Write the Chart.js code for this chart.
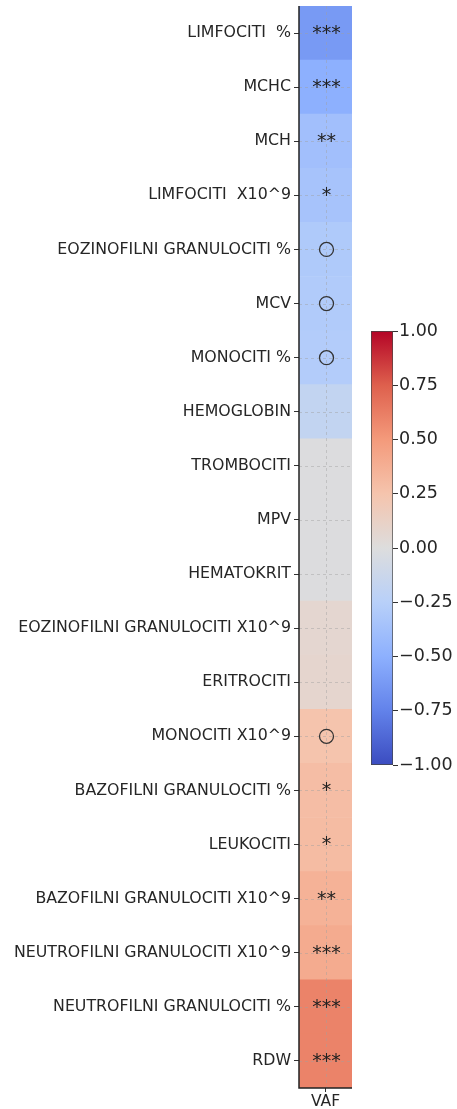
<!DOCTYPE html>
<html>
<head>
<meta charset="utf-8">
<script src="https://cdn.jsdelivr.net/npm/chart.js@4"></script>
<style>
  body { margin: 0; background: #fff; width: 457px; height: 1109px; position: relative; overflow: hidden; }
  #main { position: absolute; left: 0; top: 0; }
  #cbar { position: absolute; left: 360px; top: 320px; }
</style>
</head>
<body>
<canvas id="main" width="360" height="1109"></canvas>
<canvas id="cbar" width="97" height="460"></canvas>
<script>
const markers = ["LIMFOCITI  %", "MCHC", "MCH", "LIMFOCITI  X10^9", "EOZINOFILNI GRANULOCITI %", "MCV", "MONOCITI %",
    "HEMOGLOBIN", "TROMBOCITI", "MPV", "HEMATOKRIT", "EOZINOFILNI GRANULOCITI X10^9", "ERITROCITI",
    "MONOCITI X10^9", "BAZOFILNI GRANULOCITI %", "LEUKOCITI", "BAZOFILNI GRANULOCITI X10^9",
    "NEUTROFILNI GRANULOCITI X10^9", "NEUTROFILNI GRANULOCITI %", "RDW"];
const vafCorr = [-0.62, -0.5, -0.38, -0.35, -0.3, -0.29, -0.28, -0.18, -0.01, -0.01, -0.01, 0.07, 0.08,
    0.25, 0.29, 0.3, 0.36, 0.4, 0.6, 0.6];
const signif = ["***", "***", "**", "*", "o", "o", "o", "", "", "", "", "", "", "o", "*", "*", "**", "***", "***", "***"];
const colName = ["VAF"];
const cbarTicks = [-1, -0.75, -0.5, -0.25, 0, 0.25, 0.5, 0.75, 1];

// matplotlib coolwarm, sampled
const cw = [[59,76,192],[98,130,234],[141,176,254],[184,208,249],[221,221,221],[245,196,173],[244,154,123],[222,96,77],[180,4,38]];
function coolwarm(v) {
    let t = (v + 1) / 2;
    t = Math.max(0, Math.min(1, t)) * (cw.length - 1);
    const i = Math.min(Math.floor(t), cw.length - 2), f = t - i;
    const c = cw[i].map((a, k) => Math.round(a + (cw[i + 1][k] - a) * f));
    return `rgb(${c[0]},${c[1]},${c[2]})`;
}

const FONT = "DejaVu Sans";
const TXT = "#262626";

const overlay = {
    id: "overlay",
    afterDatasetsDraw(chart) {
        const ctx = chart.ctx, xs = chart.scales.x, ys = chart.scales.y, a = chart.chartArea;
        ctx.save();
        ctx.strokeStyle = "rgba(160,160,160,0.45)";
        ctx.lineWidth = 1;
        ctx.setLineDash([3, 3]);
        markers.forEach((m, i) => {
            const y = Math.round(ys.getPixelForValue(i)) + 0.5;
            ctx.beginPath(); ctx.moveTo(a.left, y); ctx.lineTo(a.right, y); ctx.stroke();
        });
        const cx = Math.round(xs.getPixelForValue(0.5)) + 0.5;
        ctx.beginPath(); ctx.moveTo(cx, a.top); ctx.lineTo(cx, a.bottom); ctx.stroke();
        ctx.setLineDash([]);
        // significance marks
        ctx.fillStyle = "#222";
        ctx.strokeStyle = "#333";
        ctx.textAlign = "center";
        ctx.textBaseline = "middle";
        ctx.font = "19px " + FONT;
        signif.forEach((s, i) => {
            const y = ys.getPixelForValue(i);
            if (s === "o") {
                ctx.lineWidth = 1.3;
                ctx.beginPath(); ctx.arc(cx, y, 7, 0, Math.PI * 2); ctx.stroke();
            } else if (s) {
                ctx.fillText(s, cx, y + 1);
            }
        });
        // spines
        ctx.strokeStyle = "#222";
        ctx.lineWidth = 1.5;
        ctx.beginPath(); ctx.moveTo(a.left, a.top); ctx.lineTo(a.left, a.bottom); ctx.lineTo(a.right, a.bottom); ctx.stroke();
        ctx.restore();
    }
};

new Chart(document.getElementById("main"), {
    type: "bar",
    data: {
        labels: markers,
        datasets: [{
            data: vafCorr.map(() => 1),
            backgroundColor: vafCorr.map(coolwarm),
            borderWidth: 0,
            barPercentage: 1,
            categoryPercentage: 1
        }]
    },
    options: {
        indexAxis: "y",
        responsive: false,
        animation: false,
        devicePixelRatio: 1,
        layout: { padding: { left: 0, right: 8, top: 6, bottom: 0 } },
        plugins: { legend: { display: false }, tooltip: { enabled: false } },
        scales: {
            x: {
                min: 0, max: 1,
                afterBuildTicks: (s) => { s.ticks = [{ value: 0.5 }]; },
                afterFit: (s) => { s.height = 21; s.paddingLeft = 0; s.paddingRight = 0; },
                ticks: { callback: () => colName[0], color: TXT, font: { family: FONT, size: 15.5 }, padding: 1, maxRotation: 0 },
                grid: { drawOnChartArea: false, tickLength: 4, color: "#333" },
                border: { display: false }
            },
            y: {
                afterFit: (s) => { s.width = 299; s.paddingTop = 0; s.paddingBottom = 0; },
                ticks: { color: TXT, font: { family: FONT, size: 15.8 }, padding: 3, autoSkip: false },
                grid: { drawOnChartArea: false, offset: false, tickLength: 5, color: "#333" },
                border: { display: false }
            }
        }
    },
    plugins: [overlay]
});

new Chart(document.getElementById("cbar"), {
    type: "bar",
    data: {
        labels: [""],
        datasets: [{
            data: [[-1, 1]],
            backgroundColor: (c) => {
                const a = c.chart.chartArea;
                if (!a) return "#ddd";
                const g = c.chart.ctx.createLinearGradient(0, a.bottom, 0, a.top);
                cw.forEach((col, i) => g.addColorStop(i / (cw.length - 1), `rgb(${col[0]},${col[1]},${col[2]})`));
                return g;
            },
            borderColor: "#444",
            borderWidth: 1,
            borderSkipped: false,
            barPercentage: 1,
            categoryPercentage: 1
        }]
    },
    options: {
        responsive: false,
        animation: false,
        devicePixelRatio: 1,
        layout: { padding: { left: 11, right: 0, top: 11, bottom: 15 } },
        plugins: { legend: { display: false }, tooltip: { enabled: false } },
        scales: {
            x: { display: false },
            y: {
                position: "right",
                min: -1, max: 1,
                afterBuildTicks: (s) => { s.ticks = cbarTicks.map((v) => ({ value: v })); },
                afterFit: (s) => { s.width = 64; s.paddingTop = 0; s.paddingBottom = 0; },
                ticks: {
                    callback: (v) => v.toFixed(2).replace("-", "\u2212"),
                    color: TXT, font: { family: FONT, size: 17.5 }, padding: 1
                },
                grid: { drawOnChartArea: false, tickLength: 5, color: "#333" },
                border: { display: false }
            }
        }
    }
});
</script>
</body>
</html>
